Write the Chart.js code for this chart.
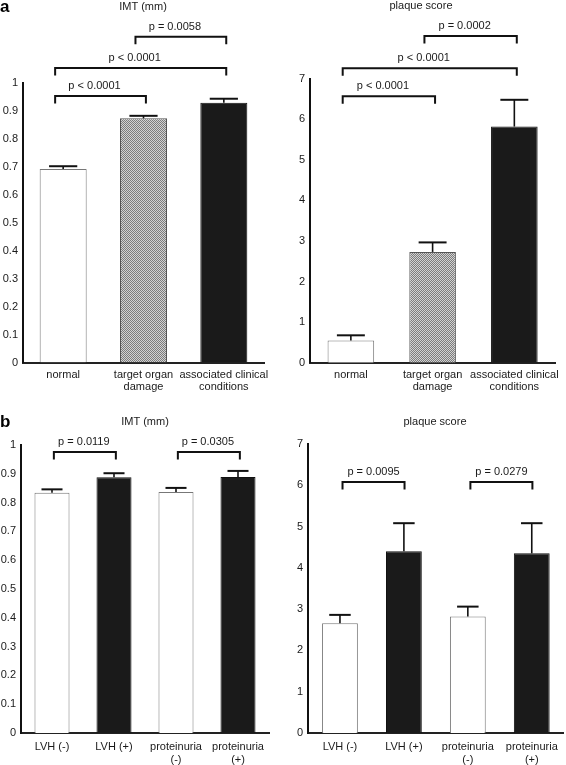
<!DOCTYPE html>
<html>
<head>
<meta charset="utf-8">
<script src="https://cdn.jsdelivr.net/npm/chart.js@4"></script>
<style>
  body { margin: 0; background: #fff; }
  #wrap { position: relative; width: 566px; height: 765px; }
  #wrap canvas { position: absolute; }
</style>
</head>
<body>
<div id="wrap">
  <canvas id="imtA" width="283" height="395" style="left:0;top:0"></canvas>
  <canvas id="plaqueA" width="283" height="395" style="left:283px;top:0"></canvas>
  <canvas id="imtB" width="283" height="365" style="left:0;top:400px"></canvas>
  <canvas id="plaqueB" width="283" height="365" style="left:283px;top:400px"></canvas>
</div>
<script>
// categories
const groupsA = ['normal', ['target organ', 'damage'], ['associated clinical', 'conditions']];
const groupsB = ['LVH (-)', 'LVH (+)', ['proteinuria', '(-)'], ['proteinuria', '(+)']];

// tick labels
const imtTicks = ['0', '0.1', '0.2', '0.3', '0.4', '0.5', '0.6', '0.7', '0.8', '0.9', '1'];
const plaqueTicks = ['0', '1', '2', '3', '4', '5', '6', '7'];

// means and upper error (SE)
const imtA = [0.691, 0.872, 0.928];
const imtAErr = [0.010, 0.009, 0.014];
const plaqueA = [0.55, 2.73, 5.82];
const plaqueAErr = [0.125, 0.235, 0.66];
const imtB = [0.834, 0.888, 0.837, 0.889];
const imtBErr = [0.012, 0.014, 0.014, 0.021];
const plaqueB = [2.66, 4.40, 2.82, 4.35];
const plaqueBErr = [0.20, 0.68, 0.24, 0.73];

// significance brackets: compared groups, bracket height (axis units), label
const pairsA = [[0, 1], [0, 2], [1, 2]];
const imtALevels = [0.952, 1.052, 1.163];
const imtAP = ['p < 0.0001', 'p < 0.0001', 'p = 0.0058'];
const plaqueALevels = [6.57, 7.26, 8.05];
const plaqueAP = ['p < 0.0001', 'p < 0.0001', 'p = 0.0002'];
const pairsB = [[0, 1], [2, 3]];
const imtBLevels = [0.976, 0.976];
const imtBP = ['p = 0.0119', 'p = 0.0305'];
const plaqueBLevels = [6.08, 6.08];
const plaqueBP = ['p = 0.0095', 'p = 0.0279'];

const FONT = "'Liberation Sans', Arial, sans-serif";

// gray checker fill for the "target organ damage" bar
function hatch() {
    const c = document.createElement('canvas');
    c.width = 2; c.height = 2;
    const g = c.getContext('2d');
    g.fillStyle = '#d2d2d2';
    g.fillRect(0, 0, 2, 2);
    g.fillStyle = '#7c7c7c';
    g.fillRect(0, 0, 1, 1);
    g.fillRect(1, 1, 1, 1);
    return g.createPattern(c, 'repeat');
}

function makeChart(id, cfg) {
    const extras = {
        id: 'extras',
        afterDatasetsDraw(chart) {
            const ctx = chart.ctx;
            const x = chart.scales.x, y = chart.scales.y;
            const meta = chart.getDatasetMeta(0);
            ctx.save();
            ctx.strokeStyle = '#111';
            // error bars (upper only)
            meta.data.forEach((bar, i) => {
                const top = y.getPixelForValue(cfg.values[i] + cfg.errors[i]);
                const half = bar.width * 0.3;
                ctx.lineWidth = 1.6;
                ctx.beginPath();
                ctx.moveTo(bar.x, bar.y);
                ctx.lineTo(bar.x, top);
                ctx.stroke();
                ctx.lineWidth = 2;
                ctx.beginPath();
                ctx.moveTo(bar.x - half, top);
                ctx.lineTo(bar.x + half, top);
                ctx.stroke();
            });
            // brackets with p values
            ctx.lineWidth = 2;
            ctx.fillStyle = '#1a1a1a';
            ctx.font = '11px ' + FONT;
            ctx.textAlign = 'center';
            ctx.textBaseline = 'middle';
            cfg.pairs.forEach((p, i) => {
                const x1 = x.getPixelForValue(p[0] + cfg.inset[0]);
                const x2 = x.getPixelForValue(p[1] + cfg.inset[1]);
                const yy = y.getPixelForValue(cfg.levels[i]);
                ctx.beginPath();
                ctx.moveTo(x1, yy + 7.5);
                ctx.lineTo(x1, yy);
                ctx.lineTo(x2, yy);
                ctx.lineTo(x2, yy + 7.5);
                ctx.stroke();
                ctx.fillText(cfg.pText[i], (x1 + x2) / 2 + cfg.textShift, yy - 10);
            });
            // title and panel letter
            ctx.fillText(cfg.title, cfg.titleX, cfg.titleY);
            if (cfg.letter) {
                ctx.font = 'bold 17px ' + FONT;
                ctx.textAlign = 'left';
                ctx.fillStyle = '#000';
                ctx.fillText(cfg.letter, 0, cfg.titleY);
            }
            ctx.restore();
        }
    };

    new Chart(document.getElementById(id), {
        type: 'bar',
        data: {
            labels: cfg.labels,
            datasets: [{
                data: cfg.values,
                backgroundColor: cfg.fills,
                borderColor: cfg.borders,
                borderWidth: 1,
                barPercentage: cfg.barPct,
                categoryPercentage: 1
            }]
        },
        options: {
            responsive: false,
            animation: false,
            layout: { padding: cfg.padding },
            plugins: { legend: { display: false }, tooltip: { enabled: false }, title: { display: false } },
            scales: {
                x: {
                    grid: { display: false, drawTicks: false },
                    border: { display: true, color: '#222', width: 2 },
                    ticks: {
                        autoSkip: false, maxRotation: 0, minRotation: 0, padding: cfg.labelPad,
                        color: '#1a1a1a', font: { family: FONT, size: 11, lineHeight: 1.12 }
                    },
                    afterFit: s => { s.height = cfg.xHeight; }
                },
                y: {
                    min: 0,
                    max: cfg.max,
                    grid: { display: false, drawTicks: false },
                    border: { display: true, color: '#111', width: 2 },
                    ticks: {
                        stepSize: cfg.step, padding: 5, color: '#1a1a1a',
                        font: { family: FONT, size: 11 },
                        callback: (v, i) => cfg.ticks[i]
                    },
                    afterFit: s => { s.width = cfg.yWidth; }
                }
            }
        },
        plugins: [extras]
    });
}

const pattern = hatch();

makeChart('imtA', {
    labels: groupsA, values: imtA, errors: imtAErr, ticks: imtTicks, max: 1, step: 0.1,
    fills: ['#ffffff', pattern, '#1a1a1a'], borders: ['#777', '#555', '#111'],
    pairs: pairsA, levels: imtALevels, pText: imtAP, inset: [-0.1, 0.03], textShift: -6,
    title: 'IMT (mm)', titleX: 143, titleY: 7, letter: 'a',
    padding: { top: 82.5, right: 19, left: 0, bottom: 0 }, yWidth: 23, xHeight: 32.5, barPct: 0.585,
    labelPad: 6
});

makeChart('plaqueA', {
    labels: groupsA, values: plaqueA, errors: plaqueAErr, ticks: plaqueTicks, max: 7, step: 1,
    fills: ['#ffffff', pattern, '#1a1a1a'], borders: ['#777', '#555', '#111'],
    pairs: pairsA, levels: plaqueALevels, pText: plaqueAP, inset: [-0.1, 0.03], textShift: -6,
    title: 'plaque score', titleX: 138, titleY: 6, letter: null,
    padding: { top: 78.7, right: 8, left: 0, bottom: 0 }, yWidth: 27, xHeight: 32.3, barPct: 0.57,
    labelPad: 6
});

makeChart('imtB', {
    labels: groupsB, values: imtB, errors: imtBErr, ticks: imtTicks, max: 1, step: 0.1,
    fills: ['#ffffff', '#1a1a1a', '#ffffff', '#1a1a1a'], borders: ['#777', '#111', '#777', '#111'],
    pairs: pairsB, levels: imtBLevels, pText: imtBP, inset: [0.03, 0.03], textShift: -1,
    title: 'IMT (mm)', titleX: 145, titleY: 22, letter: 'b',
    padding: { top: 45, right: 14, left: 0, bottom: 0 }, yWidth: 21, xHeight: 32, barPct: 0.565,
    labelPad: 8
});

makeChart('plaqueB', {
    labels: groupsB, values: plaqueB, errors: plaqueBErr, ticks: plaqueTicks, max: 7, step: 1,
    fills: ['#ffffff', '#1a1a1a', '#ffffff', '#1a1a1a'], borders: ['#777', '#111', '#777', '#111'],
    pairs: pairsB, levels: plaqueBLevels, pText: plaqueBP, inset: [0.04, 0.01], textShift: 0,
    title: 'plaque score', titleX: 152, titleY: 22, letter: null,
    padding: { top: 43.9, right: 2, left: 0, bottom: 0 }, yWidth: 25, xHeight: 32, barPct: 0.56,
    labelPad: 8
});
</script>
</body>
</html>
